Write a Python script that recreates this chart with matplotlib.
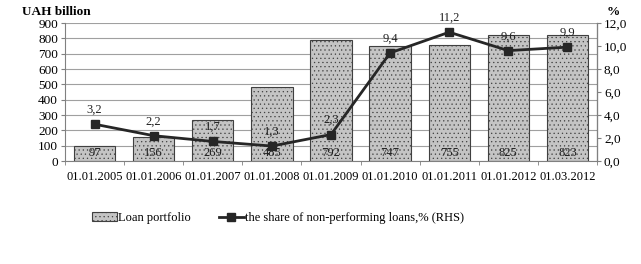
import matplotlib.pyplot as plt
import numpy as np

plt.rcParams['font.family'] = ['Liberation Serif', 'DejaVu Serif']
plt.rcParams['hatch.linewidth'] = 0.4

dates = ['01.01.2005', '01.01.2006', '01.01.2007', '01.01.2008', '01.01.2009',
         '01.01.2010', '01.01.2011', '01.01.2012', '01.03.2012']
loans = [97, 156, 269, 485, 792, 747, 755, 825, 823]
npl = [3.2, 2.2, 1.7, 1.3, 2.3, 9.4, 11.2, 9.6, 9.9]

fig = plt.figure(figsize=(6.41, 2.64), dpi=100)
ax = fig.add_axes([65 / 641, 1 - 161 / 264, (597 - 65) / 641, (161 - 23) / 264])
ax2 = ax.twinx()

x = np.arange(len(dates))
bars = ax.bar(x, loans, width=0.7, color='#c4c4c4', edgecolor='#404040',
              linewidth=0.8, hatch='....', label='Loan portfolio', zorder=2)
for xi, v in zip(x, loans):
    ax.text(xi, 12, str(v), ha='center', va='bottom', fontsize=9, color='#202020', zorder=3)

ax.set_ylim(0, 900)
ax.set_yticks(range(0, 901, 100))
ax.set_xlim(-0.5, len(dates) - 0.5)
ax.set_xticks(x)
ax.set_xticklabels(dates)
ax.set_xticks(np.arange(-0.5, len(dates)), minor=True)
ax.grid(axis='y', color='#a0a0a0', linewidth=0.8, zorder=0)
ax.set_axisbelow(True)

line, = ax2.plot(x, npl, color='#262626', linewidth=2, marker='s', markersize=6,
                 label='the share of non-performing loans,% (RHS)', zorder=4)
for xi, v in zip(x, npl):
    ax2.annotate(f'{v:.1f}'.replace('.', ','), (xi, v), xytext=(0, 6),
                 textcoords='offset points', ha='center', va='bottom', fontsize=9, color='#202020')
ax2.set_ylim(0, 12)
ax2.set_yticks(np.arange(0, 12.1, 2))
ax2.set_yticklabels([f'{t:.1f}'.replace('.', ',') for t in np.arange(0, 12.1, 2)])

for a in (ax, ax2):
    a.spines['top'].set_visible(False)
    a.tick_params(labelsize=9.5, length=3, color='#808080', pad=2)
ax.spines['left'].set_color('#808080')
ax.spines['bottom'].set_color('#808080')
ax2.spines['right'].set_color('#808080')
ax2.spines['left'].set_visible(False)
ax2.spines['bottom'].set_visible(False)
ax.tick_params(axis='x', which='major', length=0, pad=7, labelsize=9)
ax.tick_params(axis='x', which='minor', length=3, color='#808080')

fig.text(22 / 641, 1 - 12 / 264, 'UAH billion', fontsize=9.5, fontweight='bold', va='center')
fig.text(607 / 641, 1 - 12 / 264, '%', fontsize=9.5, fontweight='bold', va='center')

fig.legend(handles=[bars, line], loc='center', bbox_to_anchor=(278 / 641, 1 - 218 / 264),
           ncol=2, frameon=False, fontsize=9, handlelength=2.0, columnspacing=2.2,
           handletextpad=0.1)

fig.savefig('out.png', dpi=100)
